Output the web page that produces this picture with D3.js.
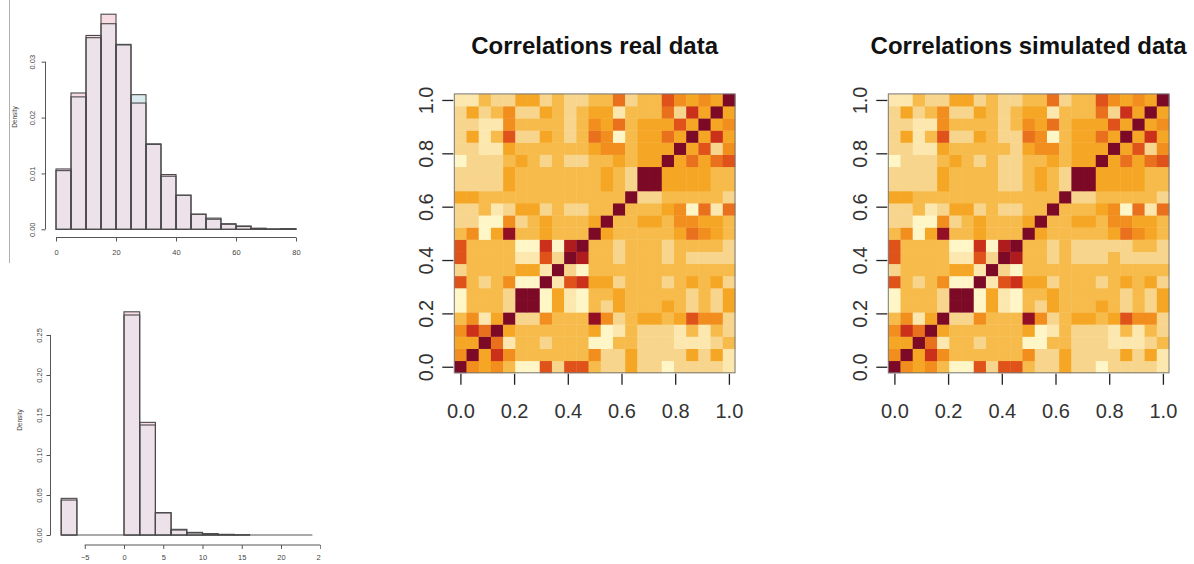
<!DOCTYPE html>
<html><head><meta charset="utf-8">
<script src="https://cdn.jsdelivr.net/npm/d3@7"></script>
<style>
body{margin:0;background:#fff;}
svg{display:block;font-family:"Liberation Sans",Arial,Helvetica,sans-serif;}
</style>
</head><body>
<svg id="c" width="1194" height="564"></svg>
<script>
// ---------- DATA ----------
// Top-left histogram (bin starts, width 5)
const histTopBinStarts = [0,5,10,15,20,25,30,35,40,45,50,55,60,65,70,75];
const histTopReal = [0.0108,0.0244,0.0347,0.0385,0.0331,0.0226,0.0152,0.0098,0.0061,0.0027,0.0020,0.0010,0.0006,0.0002,0.00005,0.0001];
const histTopSim  = [0.0105,0.0237,0.0343,0.0368,0.0330,0.0241,0.0153,0.0095,0.0061,0.0027,0.0018,0.0009,0.0005,0.0001,0.00005,0.0001];
const histTopXTicks = [0,20,40,60,80];
const histTopYTicks = [0,0.01,0.02,0.03];

// Bottom-left histogram (bin starts, width 2)
const histBotBinStarts = [-8,-6,-4,-2,0,2,4,6,8,10,12,14,16,18,20,22];
const histBotReal = [0.0458,0,0,0,0.279,0.1408,0.0280,0.0071,0.0033,0.0017,0.0008,0.0003,0,0,0,0];
const histBotSim  = [0.0437,0,0,0,0.275,0.1375,0.0276,0.0062,0.0025,0.0012,0.0006,0.0002,0,0,0,0];
const histBotXTicks = [-5,0,5,10,15,20,25];
const histBotYTicks = [0,0.05,0.10,0.15,0.20,0.25];

// Heatmap tick labels
const heatTicks = [0,0.2,0.4,0.6,0.8,1.0];
const heatTitles = ["Correlations real data","Correlations simulated data"];

// Correlation level (0 = lowest .. 11 = highest), row 0 = bottom, col 0 = left
const corrReal = [
[11,5,4,5,3,0,0,7,2,7,7,3,2,2,4,2,2,0,2,2,2,2,1],
[5,11,4,8,5,3,3,3,3,3,3,5,2,2,4,2,2,2,2,4,2,4,1],
[4,4,11,6,1,3,3,2,3,3,3,0,0,3,3,2,2,2,1,1,1,2,3],
[5,8,6,11,4,3,3,3,3,3,3,4,0,1,3,2,2,2,1,3,1,3,2],
[3,5,1,4,11,2,2,5,3,3,3,10,5,2,3,4,4,3,4,7,5,5,2],
[0,3,3,3,2,11,11,0,4,1,0,3,2,4,3,3,3,4,3,2,3,2,4],
[0,3,3,3,2,11,11,0,4,1,0,3,3,4,3,3,3,3,3,2,3,2,4],
[7,3,2,3,5,0,0,11,1,7,8,4,4,2,3,3,3,2,3,4,3,4,2],
[2,3,3,3,3,4,4,1,11,2,0,3,3,3,3,3,3,3,3,3,3,3,3],
[7,3,3,3,3,1,1,7,2,11,9,3,3,2,3,3,3,2,3,2,2,2,2],
[7,3,3,3,3,0,0,8,0,9,11,3,3,2,3,3,3,2,3,3,3,3,2],
[3,5,0,4,10,3,3,4,3,3,3,11,4,3,3,3,3,3,4,6,5,4,3],
[2,2,0,0,5,2,3,4,3,3,3,4,11,3,3,4,4,3,5,5,4,4,3],
[2,2,3,1,2,4,4,2,3,2,2,3,3,11,3,3,3,4,5,0,6,1,6],
[4,4,3,3,3,3,3,3,3,3,3,3,3,3,11,2,2,3,3,3,3,3,2],
[2,2,2,2,4,3,3,3,3,3,3,3,4,3,2,11,11,4,4,4,4,3,3],
[2,2,2,2,4,3,3,3,3,3,3,3,4,3,2,11,11,4,4,4,4,3,3],
[0,2,2,2,3,4,3,2,3,2,2,3,3,4,3,4,4,11,4,6,4,6,7],
[2,2,1,1,4,3,3,3,3,3,3,4,5,5,3,4,4,4,11,4,7,2,5],
[2,4,1,3,7,2,2,4,3,2,3,6,5,0,3,4,4,6,4,11,4,8,4],
[2,2,1,1,5,3,3,3,3,2,3,5,4,6,3,4,4,4,7,4,11,4,5],
[2,4,2,3,5,2,2,4,3,2,3,4,4,1,3,3,3,6,2,8,4,11,4],
[1,1,3,2,2,4,4,2,3,2,2,3,3,6,2,3,3,7,5,4,5,4,11]
];
const corrSim = [
[11,5,4,5,3,0,0,7,2,7,7,3,2,2,4,2,2,0,2,2,2,2,1],
[5,11,4,8,5,3,3,3,3,3,3,5,2,2,4,2,2,2,2,4,2,4,1],
[4,4,11,6,1,3,3,2,3,3,3,0,0,3,3,2,2,2,1,1,1,2,3],
[5,8,6,11,4,3,3,3,3,3,3,4,0,1,3,2,2,2,1,3,1,3,2],
[3,5,1,4,11,2,2,5,3,3,3,10,5,2,3,4,4,3,4,7,5,5,2],
[0,3,3,3,2,11,11,0,4,1,0,3,2,4,3,3,3,4,3,2,3,2,4],
[0,3,3,3,2,11,11,0,4,1,0,3,3,4,3,3,3,3,3,2,3,2,4],
[7,3,2,3,5,0,0,11,1,7,8,4,4,2,3,3,3,2,3,4,3,4,2],
[2,3,3,3,3,4,4,1,11,2,0,3,3,3,3,3,3,3,3,3,3,3,3],
[7,3,3,3,3,1,1,7,2,11,9,3,3,2,3,2,2,2,3,2,2,2,2],
[7,3,3,3,3,0,0,8,0,9,11,3,3,2,3,2,2,2,2,2,3,3,2],
[3,5,0,4,10,3,3,4,3,3,3,11,4,3,3,3,3,3,4,6,5,4,3],
[2,2,0,0,5,2,3,4,3,3,3,4,11,3,3,4,4,3,5,5,4,4,3],
[2,2,3,1,2,4,4,2,3,2,2,3,3,11,3,3,3,4,5,0,6,1,6],
[4,4,3,3,3,3,3,3,3,3,3,3,3,3,11,2,2,3,3,3,3,3,2],
[2,2,2,2,4,3,3,3,3,2,2,3,4,3,2,11,11,4,4,4,4,3,3],
[2,2,2,2,4,3,3,3,3,2,2,3,4,3,2,11,11,4,4,4,4,3,3],
[0,2,2,2,3,4,3,2,3,2,2,3,3,4,3,4,4,11,4,6,4,6,7],
[2,2,1,1,4,3,3,3,3,3,2,4,5,5,3,4,4,4,11,4,7,2,5],
[2,4,1,3,7,2,2,4,3,2,2,6,5,0,3,4,4,6,4,11,4,8,4],
[2,2,1,1,5,3,3,3,3,2,3,5,4,6,3,4,4,4,7,4,11,4,5],
[2,4,2,3,5,2,2,4,3,2,3,4,4,1,3,3,3,6,2,8,4,11,4],
[1,1,3,2,2,4,4,2,3,2,2,3,3,6,2,3,3,7,5,4,5,4,11]
];
const heatPalette = ["#FFF6C8","#FCE8AE","#F8D58C","#F6BB4A","#F5A624","#F18E1D",
                     "#E9701C","#DF521A","#CA301A","#AE1C1E","#931024","#7C0A26"];

// ---------- DRAW ----------
const svg = d3.select("#c");
svg.append("rect").attr("width",1194).attr("height",564).attr("fill","#fff");
const defs = svg.append("defs");
defs.append("clipPath").attr("id","leftClip").append("rect")
  .attr("x",0).attr("y",0).attr("width",321).attr("height",564);

// thin separator line on far left
svg.append("line").attr("x1",9.5).attr("x2",9.5).attr("y1",0).attr("y2",263)
   .attr("stroke","#b0b0b0").attr("stroke-width",1);

function drawHist(o){
  const g = svg.append("g").attr("clip-path","url(#leftClip)");
  const x = d3.scaleLinear().domain(o.xDom).range(o.xRng);
  const y = d3.scaleLinear().domain(o.yDom).range(o.yRng);
  const data = o.starts.map((s,i)=>({s:s, e:s+o.bw, a:o.real[i], b:o.sim[i]}));
  const nz = data.filter(d=>d.a>0||d.b>0);
  g.append("line").attr("x1",x(o.starts[0])).attr("x2",x(o.starts[o.starts.length-1]+o.bw))
    .attr("y1",y(0)).attr("y2",y(0)).attr("stroke","#555").attr("stroke-width",1.2);
  g.selectAll(".hb").data(nz).join("rect")
    .attr("x",d=>x(d.s)).attr("width",d=>x(d.e)-x(d.s))
    .attr("y",d=>y(d.b)).attr("height",d=>y(0)-y(d.b)).attr("fill","#D9EBEE");
  g.selectAll(".ha").data(nz).join("rect")
    .attr("x",d=>x(d.s)).attr("width",d=>x(d.e)-x(d.s))
    .attr("y",d=>y(d.a)).attr("height",d=>y(0)-y(d.a)).attr("fill","#F8DCE4");
  g.selectAll(".ho").data(nz).join("rect")
    .attr("x",d=>x(d.s)).attr("width",d=>x(d.e)-x(d.s))
    .attr("y",d=>y(Math.min(d.a,d.b))).attr("height",d=>y(0)-y(Math.min(d.a,d.b))).attr("fill","#EEE2EA");
  ["a","b"].forEach(k=>{
    g.selectAll(".o"+k).data(nz).join("rect")
      .attr("x",d=>x(d.s)).attr("width",d=>x(d.e)-x(d.s))
      .attr("y",d=>y(d[k])).attr("height",d=>Math.max(0.01,y(0)-y(d[k])))
      .attr("fill","none").attr("stroke","#4a4a4a").attr("stroke-width",1.1);
  });
  const ya = g.append("g").attr("transform",`translate(${o.yAxisX},0)`)
    .call(d3.axisLeft(y).tickValues(o.yTicks).tickSize(4).tickFormat(d3.format(".2f")));
  ya.select(".domain").attr("d",`M0,${y(o.yTicks[0])}V${y(o.yTicks[o.yTicks.length-1])}`).attr("stroke","#555");
  ya.selectAll("line").attr("stroke","#555");
  ya.selectAll("text").attr("x",null).attr("dy",null).attr("text-anchor","middle")
    .attr("transform",`translate(${o.yLabDx},0) rotate(-90)`).attr("dy","0.35em")
    .attr("font-size",7.5).attr("fill","#444");
  const xa = g.append("g").attr("transform",`translate(0,${o.xAxisY})`)
    .call(d3.axisBottom(x).tickValues(o.xTicks).tickSize(4).tickFormat(d3.format("d")));
  xa.select(".domain").attr("d",`M${x(o.xTicks[0])},0H${x(o.xTicks[o.xTicks.length-1])}`).attr("stroke","#555");
  xa.selectAll("line").attr("stroke","#555");
  xa.selectAll("text").attr("y",o.xLabDy).attr("dy","0.35em").attr("font-size",7.5).attr("fill","#444");
  g.append("text").attr("transform",`translate(${o.densX},${o.densY}) rotate(-90)`)
    .attr("text-anchor","middle").attr("dy","0.35em").attr("font-size",6.5).attr("fill","#444").text("Density");
}

drawHist({starts:histTopBinStarts,bw:5,real:histTopReal,sim:histTopSim,
  xDom:[0,80],xRng:[56,296],yDom:[0,0.03],yRng:[229.3,61.7],
  yTicks:histTopYTicks,xTicks:histTopXTicks,yAxisX:45.5,yLabDx:-13,xAxisY:237.5,xLabDy:15,
  densX:15,densY:117});

drawHist({starts:histBotBinStarts,bw:2,real:histBotReal,sim:histBotSim,
  xDom:[0,20],xRng:[124,281],yDom:[0,0.25],yRng:[535,335],
  yTicks:histBotYTicks,xTicks:histBotXTicks,yAxisX:50.5,yLabDx:-11,xAxisY:545,xLabDy:12,
  densX:20,densY:420});

function drawHeat(mat, x0, title){
  const n = mat.length;
  const w = 280.7, top = 93.9, bot = 372.8;
  const g = svg.append("g");
  const xb = d3.scaleBand().domain(d3.range(n)).range([x0, x0+w]).paddingInner(0).paddingOuter(0);
  const yb = d3.scaleBand().domain(d3.range(n)).range([bot, top]).paddingInner(0).paddingOuter(0);
  const color = d3.scaleQuantize().domain([-0.5,11.5]).range(heatPalette);
  const cells = [];
  mat.forEach((row,r)=>row.forEach((v,c)=>cells.push({r,c,v})));
  g.selectAll("rect.cell").data(cells).join("rect").attr("class","cell")
    .attr("x",d=>xb(d.c)).attr("y",d=>yb(d.r))
    .attr("width",xb.bandwidth()+0.4).attr("height",yb.bandwidth()+0.4)
    .attr("fill",d=>color(d.v));
  g.append("rect").attr("x",x0).attr("y",top).attr("width",w).attr("height",bot-top)
    .attr("fill","none").attr("stroke","#777").attr("stroke-width",1);
  const half = 0.5/(n-1);
  const xl = d3.scaleLinear().domain([-half,1+half]).range([x0,x0+w]);
  const yl = d3.scaleLinear().domain([-half,1+half]).range([bot,top]);
  const fmt = d3.format(".1f");
  const xa = g.append("g").attr("transform",`translate(0,${bot+1})`)
    .call(d3.axisBottom(xl).tickValues(heatTicks).tickSize(11).tickFormat(fmt));
  xa.select(".domain").remove();
  xa.selectAll("line").attr("stroke","#222").attr("stroke-width",1.3);
  xa.selectAll("text").attr("y",37).attr("dy","0.35em").attr("font-size",20).attr("fill","#333");
  const ya = g.append("g").attr("transform",`translate(${x0-1},0)`)
    .call(d3.axisLeft(yl).tickValues(heatTicks).tickSize(11).tickFormat(fmt));
  ya.select(".domain").remove();
  ya.selectAll("line").attr("stroke","#222").attr("stroke-width",1.3);
  ya.selectAll("text").attr("x",null).attr("dy",null).attr("text-anchor","middle")
    .attr("transform","translate(-27,0) rotate(-90)").attr("dy","0.35em")
    .attr("font-size",20).attr("fill","#333");
  g.append("text").attr("x",x0+w/2).attr("y",54).attr("text-anchor","middle")
    .attr("font-size",24).attr("font-weight","bold").attr("fill","#111").text(title);
}
drawHeat(corrReal, 454.3, heatTitles[0]);
drawHeat(corrSim, 888.3, heatTitles[1]);
</script>
</body></html>
